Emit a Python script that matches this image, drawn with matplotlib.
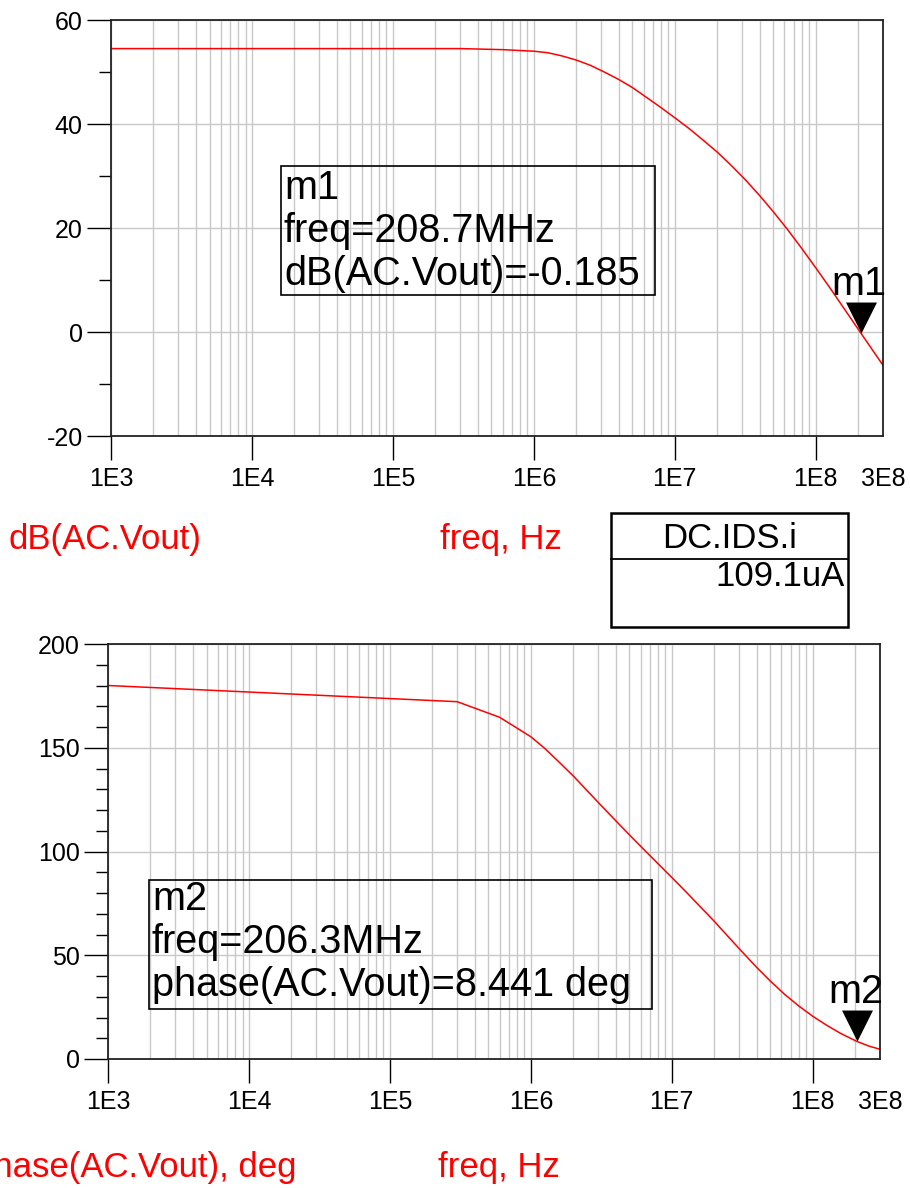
import numpy as np
import matplotlib
matplotlib.use('Agg')
import matplotlib.pyplot as plt
from matplotlib.ticker import LogLocator, NullFormatter, MultipleLocator
from matplotlib.patches import Rectangle
from matplotlib.lines import Line2D

plt.rcParams['font.family'] = ['Liberation Sans', 'DejaVu Sans']
plt.rcParams['axes.unicode_minus'] = False

# gain curve
freq_db = [1e3, 3e5, 6e5, 1e6, 1.26e6, 1.58e6, 2.0e6, 2.51e6, 3.16e6, 3.98e6, 5.01e6,
           6.31e6, 7.94e6, 1e7, 1.26e7, 1.58e7, 2.0e7, 2.51e7, 3.16e7, 3.98e7, 5.01e7,
           6.31e7, 7.94e7, 1e8, 1.26e8, 1.58e8, 2.087e8, 2.51e8, 3e8]
db = [54.5, 54.5, 54.3, 54.0, 53.7, 53.1, 52.3, 51.3, 50.0, 48.6, 47.0,
      45.1, 43.2, 41.2, 39.15, 36.95, 34.6, 32.05, 29.3, 26.3, 23.1,
      19.7, 16.1, 12.35, 8.5, 4.6, -0.185, -3.35, -6.4]

# phase curve
freq_ph = [1e3, 3e5, 6e5, 1e6, 1.26e6, 1.58e6, 2.0e6, 2.51e6, 3.16e6, 3.98e6, 5.01e6,
           6.31e6, 7.94e6, 1e7, 1.26e7, 1.58e7, 2.0e7, 2.51e7, 3.16e7, 3.98e7, 5.01e7,
           6.31e7, 7.94e7, 1e8, 1.26e8, 1.58e8, 2.063e8, 2.51e8, 3e8]
ph = [180.0, 172.2, 164.7, 155.3, 149.6, 143.2, 136.4, 129.3, 122.1, 115.0, 108.0,
      101.1, 94.3, 87.5, 80.6, 73.6, 66.4, 59.0, 51.6, 44.3, 37.5,
      31.2, 25.6, 20.6, 16.2, 12.3, 8.441, 6.2, 4.7]

# markers
m1 = (2.087e8, -0.185)
m2 = (2.063e8, 8.441)
m1_text = ['m1', 'freq=208.7MHz', 'dB(AC.Vout)=-0.185']
m2_text = ['m2', 'freq=206.3MHz', 'phase(AC.Vout)=8.441 deg']

xticks = [1e3, 1e4, 1e5, 1e6, 1e7, 1e8, 3e8]
xlabels = ['1E3', '1E4', '1E5', '1E6', '1E7', '1E8', '3E8']

W, H = 910, 1188
fig = plt.figure(figsize=(W / 100, H / 100), dpi=100)


def rect(x0, y0, x1, y1):
    return [x0 / W, 1 - y1 / H, (x1 - x0) / W, (y1 - y0) / H]


def fx(x):
    return x / W


def fy(y):
    return 1 - y / H


tri = [(-0.5, 1), (0.5, 1), (0, 0)]


def setup(ax, ylo, yhi, ymaj, ymin):
    ax.set_xscale('log')
    ax.set_xlim(1e3, 3e8)
    ax.set_ylim(ylo, yhi)
    ax.set_xticks(xticks)
    ax.set_xticklabels(xlabels)
    ax.xaxis.set_minor_locator(LogLocator(base=10, subs=np.arange(2, 10), numticks=50))
    ax.xaxis.set_minor_formatter(NullFormatter())
    ax.yaxis.set_major_locator(MultipleLocator(ymaj))
    ax.yaxis.set_minor_locator(MultipleLocator(ymin))
    ax.tick_params(axis='x', which='major', direction='out', length=17.3, width=1,
                   labelsize=18, pad=5)
    ax.tick_params(axis='x', which='minor', length=0)
    ax.tick_params(axis='y', which='major', direction='out', length=17.3, width=1,
                   labelsize=18, pad=3)
    ax.tick_params(axis='y', which='minor', direction='out', length=8.6, width=1)
    ax.grid(True, axis='x', which='both', color='#c8c8c8', lw=1)
    ax.grid(True, axis='y', which='major', color='#c8c8c8', lw=1)
    ax.set_axisbelow(True)
    for s in ax.spines.values():
        s.set_linewidth(1.3)
        s.set_color('#222222')
    ax.xaxis.get_major_ticks()[-1].tick1line.set_visible(False)


# gain plot
ax1 = fig.add_axes(rect(111, 20, 883, 436))
setup(ax1, -20, 60, 20, 10)
ax1.plot(freq_db, db, color='#ff0000', lw=1.1)
ax1.plot([m1[0]], [m1[1]], marker=tri, ms=44.6, color='black', mew=0, clip_on=False)
ax1.annotate('m1', xy=m1, xytext=(-2, 38), textcoords='offset pixels', ha='center',
             va='baseline', fontsize=28.5, annotation_clip=False)

# phase plot
ax2 = fig.add_axes(rect(108, 644, 880, 1059))
setup(ax2, 0, 200, 50, 10)
ax2.plot(freq_ph, ph, color='#ff0000', lw=1.1)
ax2.plot([m2[0]], [m2[1]], marker=tri, ms=44.6, color='black', mew=0, clip_on=False)
ax2.annotate('m2', xy=m2, xytext=(-1, 38), textcoords='offset pixels', ha='center',
             va='baseline', fontsize=28.5, annotation_clip=False)


def marker_box(x0, y0, x1, y1, lines, base):
    fig.add_artist(Rectangle((fx(x0), fy(y1)), (x1 - x0) / W, (y1 - y0) / H,
                             transform=fig.transFigure, fill=False, ec='black', lw=1.2))
    for i, t in enumerate(lines):
        fig.text(fx(x0 + 3), fy(base + 43 * i), t, fontsize=28.5, va='baseline', ha='left')


marker_box(281, 166, 655, 295, m1_text, 199)
marker_box(149, 880, 652, 1009, m2_text, 910)

# axis names
fig.text(fx(9), fy(540), 'dB(AC.Vout)', color='#ff0000', fontsize=25, va='center', ha='left')
fig.text(fx(440), fy(540), 'freq, Hz', color='#ff0000', fontsize=25, va='center', ha='left')
fig.text(fx(297), fy(1167), 'phase(AC.Vout), deg', color='#ff0000', fontsize=25,
         va='center', ha='right')
fig.text(fx(438), fy(1167), 'freq, Hz', color='#ff0000', fontsize=25, va='center', ha='left')

# DC table
fig.add_artist(Rectangle((fx(611), fy(627)), (848 - 611) / W, (627 - 513) / H,
                         transform=fig.transFigure, fill=False, ec='black', lw=1.8))
fig.add_artist(Line2D([fx(611), fx(848)], [fy(559), fy(559)], transform=fig.transFigure,
                      color='black', lw=1.3))
fig.text(fx(730), fy(538), 'DC.IDS.i', fontsize=25, va='center', ha='center')
fig.text(fx(845), fy(577), '109.1uA', fontsize=25, va='center', ha='right')

fig.savefig('out.png', dpi=100)
